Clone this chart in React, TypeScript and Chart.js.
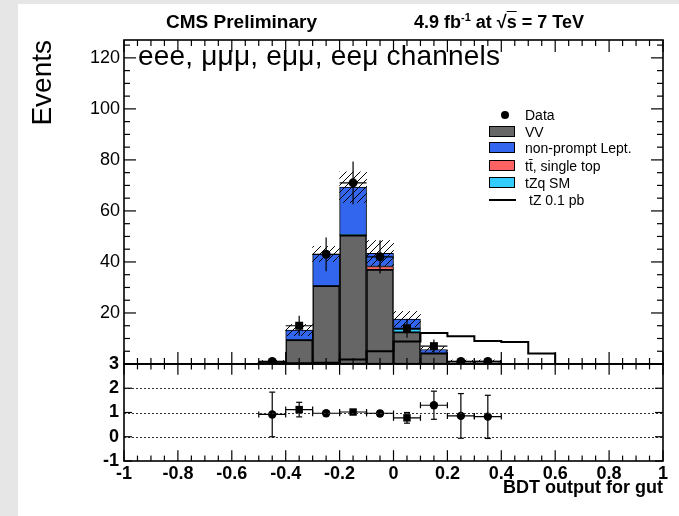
import React, { useEffect, useRef } from 'react';
import { Chart, registerables } from 'chart.js';

Chart.register(...registerables);

// ---------------- data ----------------
const binCenters = [-0.45, -0.35, -0.25, -0.15, -0.05, 0.05, 0.15, 0.25, 0.35];
const vvValues = [0.8, 9.4, 30.6, 50.4, 37.0, 12.5, 4.2, 1.0, 1.0];
const ttValues = [0, 0, 0, 0.15, 1.2, 0, 0, 0, 0];
const tzqValues = [0, 0, 0, 0.15, 0, 1.2, 0, 0, 0];
const nonPromptValues = [0.3, 3.9, 12.5, 18.6, 5.2, 3.9, 1.5, 0.15, 0.2];
const mcErr = [0.3, 2.2, 3.0, 6.0, 5.0, 3.0, 1.0, 0.4, 0.4];

const dataValues = [1, 15, 43, 71, 42, 14, 7, 1, 1];
const dataErrLo = [1, 3.9, 6.6, 8.4, 6.5, 3.7, 2.6, 1, 1];
const dataErrHi = [1, 3.9, 6.6, 8.4, 6.5, 3.7, 2.6, 1, 1];

const ratioValues = [0.92, 1.12, 0.97, 1.02, 0.96, 0.78, 1.3, 0.86, 0.83];
const ratioErrLo = [0.92, 0.3, 0.1, 0.1, 0.12, 0.22, 0.58, 0.92, 0.9];
const ratioErrHi = [0.92, 0.3, 0.1, 0.1, 0.12, 0.22, 0.58, 0.92, 0.88];

const signalEdges = [-1, -0.9, -0.8, -0.7, -0.6, -0.5, -0.4, -0.3, -0.2, -0.1, 0, 0.1, 0.2, 0.3, 0.4, 0.5, 0.6, 0.7, 0.8, 0.9, 1];
const signalValues = [0, 0, 0, 0, 0, 0.3, 0.3, 0.5, 1.8, 5.0, 8.8, 12.2, 10.9, 9.0, 8.6, 4.1, 0, 0, 0, 0, 0];

const xTicks = [-1, -0.8, -0.6, -0.4, -0.2, 0, 0.2, 0.4, 0.6, 0.8, 1];
const yTicks = [20, 40, 60, 80, 100, 120];
const ratioTicks = [-1, 0, 1, 2, 3];
const ratioGrid = [0, 1, 2];

const legendLabels = ['Data', 'VV', 'non-prompt Lept.', 'tt\u0304, single top', 'tZq SM', 'tZ 0.1 pb'];

// ---------------- style ----------------
const FONT = '"Liberation Sans", Arial, Helvetica, sans-serif';
const C_VV = '#666666';
const C_NP = '#3366ee';
const C_TT = '#ff6262';
const C_TZQ = '#33ccff';
const dataMarkerStyles = ['circle', 'rect', 'circle', 'circle', 'circle', 'rect', 'rect', 'circle', 'circle'];
const ratioMarkerStyles = ['circle', 'rect', 'circle', 'rect', 'circle', 'rect', 'circle', 'circle', 'circle'];
const markerSize = (styles: string[], r: number) => styles.map((s) => (s === 'rect' ? r * 1.25 : r));

const HALF_BIN = 0.05;

function errorBars(xs: number[], ys: number[], lo: number[], hi: number[]) {
  const pts: { x: number; y: number | null }[] = [];
  xs.forEach((x, i) => {
    pts.push({ x, y: ys[i] - lo[i] }, { x, y: ys[i] + hi[i] }, { x, y: null });
    pts.push({ x: x - HALF_BIN, y: ys[i] }, { x: x + HALF_BIN, y: ys[i] }, { x, y: null });
  });
  return pts;
}

function makeHatch(): CanvasPattern | string {
  const c = document.createElement('canvas');
  c.width = 7;
  c.height = 7;
  const g = c.getContext('2d');
  if (!g) return 'rgba(0,0,0,0.3)';
  g.strokeStyle = '#000';
  g.lineWidth = 1;
  g.beginPath();
  g.moveTo(0, 7);
  g.lineTo(7, 0);
  g.moveTo(-1, 1);
  g.lineTo(1, -1);
  g.moveTo(6, 8);
  g.lineTo(8, 6);
  g.stroke();
  return g.createPattern(c, 'repeat') || 'rgba(0,0,0,0.3)';
}

const framePlugin = {
  id: 'rootFrame',
  afterDatasetsDraw(chart: any) {
    const { ctx, chartArea } = chart;
    const xs = chart.scales.x;
    const yu = chart.scales.y;
    const yr = chart.scales.yr;
    const L = chartArea.left;
    const R = chartArea.right;
    const seg = (x1: number, y1: number, x2: number, y2: number) => {
      ctx.beginPath();
      ctx.moveTo(x1, y1);
      ctx.lineTo(x2, y2);
      ctx.stroke();
    };
    ctx.save();
    // dotted reference lines in ratio panel
    ctx.setLineDash([2, 2]);
    ctx.strokeStyle = '#333';
    ctx.lineWidth = 1;
    ratioGrid.forEach((v) => {
      const py = Math.round(yr.getPixelForValue(v)) + 0.5;
      seg(L, py, R, py);
    });
    ctx.setLineDash([]);
    ctx.strokeStyle = '#000';
    // end caps of ratio error bars
    ctx.lineWidth = 1.2;
    binCenters.forEach((c, i) => {
      const px = xs.getPixelForValue(c);
      const pl = xs.getPixelForValue(c - HALF_BIN);
      const pr = xs.getPixelForValue(c + HALF_BIN);
      const py = yr.getPixelForValue(ratioValues[i]);
      const pLo = yr.getPixelForValue(ratioValues[i] - ratioErrLo[i]);
      const pHi = yr.getPixelForValue(ratioValues[i] + ratioErrHi[i]);
      seg(px - 3, pLo, px + 3, pLo);
      seg(px - 3, pHi, px + 3, pHi);
      seg(pl, py - 3, pl, py + 3);
      seg(pr, py - 3, pr, py + 3);
    });
    // ticks
    for (let k = 0; k <= 40; k++) {
      const v = -1 + k * 0.05;
      const major = k % 4 === 0;
      const px = xs.getPixelForValue(v);
      const len = major ? 12 : 6;
      seg(px, yu.top, px, yu.top + len);
      seg(px, yu.bottom, px, yu.bottom - len);
      seg(px, yr.top, px, yr.top + len * 0.9);
      seg(px, yr.bottom, px, yr.bottom - len * 0.9);
    }
    for (let v = 0; v <= 125; v += 5) {
      const major = v % 20 === 0;
      const py = yu.getPixelForValue(v);
      const len = major ? 12 : 6;
      seg(L, py, L + len, py);
      seg(R, py, R - len, py);
    }
    ratioTicks.forEach((v) => {
      const py = yr.getPixelForValue(v);
      seg(L, py, L + 8, py);
      seg(R, py, R - 8, py);
    });
    // frames
    ctx.lineWidth = 1.6;
    ctx.strokeRect(L, yu.top, R - L, yu.bottom - yu.top);
    ctx.strokeRect(L, yr.top, R - L, yr.bottom - yr.top);
    ctx.restore();
  },
};

export default function App() {
  const ref = useRef<HTMLCanvasElement>(null);

  useEffect(() => {
    if (!ref.current) return;
    const hatch = makeHatch();
    const bars = (vals: number[]) => binCenters.map((x, i) => ({ x, y: vals[i] > 0 ? vals[i] : null }));
    const totals = binCenters.map((_, i) => vvValues[i] + ttValues[i] + tzqValues[i] + nonPromptValues[i]);
    const barCommon = {
      type: 'bar' as const,
      yAxisID: 'y',
      stack: 'mc',
      order: 5,
      borderColor: '#000',
      borderWidth: 1,
      borderSkipped: false,
      barPercentage: 1,
      categoryPercentage: 1,
    };
    const chart = new Chart(ref.current, {
      type: 'bar',
      data: {
        datasets: [
          { ...barCommon, label: legendLabels[1], data: bars(vvValues), backgroundColor: C_VV, borderWidth: 1.5 },
          { ...barCommon, label: legendLabels[3], data: bars(ttValues), backgroundColor: C_TT },
          { ...barCommon, label: legendLabels[4], data: bars(tzqValues), backgroundColor: C_TZQ },
          { ...barCommon, label: legendLabels[2], data: bars(nonPromptValues), backgroundColor: C_NP },
          {
            type: 'bar',
            label: 'MC uncertainty',
            yAxisID: 'y',
            stack: 'err',
            grouped: false,
            order: 4,
            data: binCenters.map((x, i) => ({ x, y: [totals[i] - mcErr[i], totals[i] + mcErr[i]] })),
            backgroundColor: hatch as any,
            borderWidth: 0,
            barPercentage: 1,
            categoryPercentage: 1,
          } as any,
          {
            type: 'line',
            label: legendLabels[5],
            yAxisID: 'y',
            order: 3,
            data: signalEdges.map((x, i) => ({ x, y: signalValues[i] })),
            stepped: true,
            borderColor: '#000',
            borderWidth: 2,
            pointRadius: 0,
            fill: false,
          } as any,
          {
            type: 'line',
            label: 'data errors',
            yAxisID: 'y',
            order: 2,
            data: errorBars(binCenters, dataValues, dataErrLo, dataErrHi),
            borderColor: '#000',
            borderWidth: 1.2,
            pointRadius: 0,
            spanGaps: false,
          } as any,
          {
            type: 'scatter',
            label: legendLabels[0],
            yAxisID: 'y',
            order: 1,
            data: binCenters.map((x, i) => ({ x, y: dataValues[i] })),
            pointRadius: markerSize(dataMarkerStyles, 4.5),
            pointStyle: dataMarkerStyles,
            pointBackgroundColor: '#000',
            pointBorderColor: '#000',
            pointBorderWidth: 0,
          } as any,
          {
            type: 'line',
            label: 'ratio errors',
            yAxisID: 'yr',
            order: 2,
            data: errorBars(binCenters, ratioValues, ratioErrLo, ratioErrHi),
            borderColor: '#000',
            borderWidth: 1.2,
            pointRadius: 0,
            spanGaps: false,
          } as any,
          {
            type: 'scatter',
            label: 'ratio',
            yAxisID: 'yr',
            order: 1,
            data: binCenters.map((x, i) => ({ x, y: ratioValues[i] })),
            pointRadius: markerSize(ratioMarkerStyles, 4.2),
            pointStyle: ratioMarkerStyles,
            pointBackgroundColor: '#000',
            pointBorderColor: '#000',
            pointBorderWidth: 0,
          } as any,
        ],
      },
      options: {
        animation: false,
        responsive: false,
        devicePixelRatio: 1,
        layout: { padding: { left: 0, right: 16, top: 40, bottom: 0 } },
        plugins: { legend: { display: false }, tooltip: { enabled: false }, title: { display: false } },
        events: [],
        scales: {
          x: {
            type: 'linear',
            min: -1,
            max: 1,
            offset: false,
            afterBuildTicks: (s: any) => {
              s.ticks = xTicks.map((value) => ({ value }));
            },
            afterFit: (s: any) => {
              s.height = 55;
            },
            grid: { display: false, drawTicks: false, offset: false },
            border: { display: false },
            ticks: {
              autoSkip: false,
              maxRotation: 0,
              padding: 2,
              color: '#000',
              font: { family: FONT, size: 18, weight: 'bold' },
              callback: (v: any) => String(Math.round(Number(v) * 10) / 10),
            },
            title: {
              display: true,
              text: 'BDT output for gut',
              align: 'end',
              color: '#000',
              font: { family: FONT, size: 18, weight: 'bold' },
              padding: { top: 0, bottom: 17 },
            },
          },
          yr: {
            type: 'linear',
            position: 'left',
            stack: 'panels',
            stackWeight: 97,
            min: -1,
            max: 3,
            afterBuildTicks: (s: any) => {
              s.ticks = ratioTicks.map((value) => ({ value }));
            },
            afterFit: (s: any) => {
              s.width = 124;
            },
            grid: { display: false, drawTicks: false },
            border: { display: false },
            ticks: {
              autoSkip: false,
              padding: 5,
              color: '#000',
              font: { family: FONT, size: 18, weight: 'bold' },
              callback: (v: any) => String(v),
            },
          },
          y: {
            type: 'linear',
            position: 'left',
            stack: 'panels',
            stackWeight: 324,
            min: 0,
            max: 127,
            afterBuildTicks: (s: any) => {
              s.ticks = yTicks.map((value) => ({ value }));
            },
            afterFit: (s: any) => {
              s.width = 124;
            },
            grid: { display: false, drawTicks: false },
            border: { display: false },
            ticks: {
              autoSkip: false,
              padding: 4,
              color: '#000',
              font: { family: FONT, size: 18, weight: 'normal' },
              callback: (v: any) => String(v),
            },
            title: {
              display: true,
              text: 'Events',
              align: 'end',
              color: '#000',
              font: { family: FONT, size: 28, weight: 'normal' },
              padding: { top: 26, bottom: 0 },
            },
          },
        },
      } as any,
      plugins: [framePlugin],
    });
    return () => chart.destroy();
  }, []);

  const legendRowY = [115, 132, 148, 166, 183, 200];
  const legendSwatch = [null, C_VV, C_NP, C_TT, C_TZQ, null];
  const txt = (extra: React.CSSProperties): React.CSSProperties => ({
    position: 'absolute',
    fontFamily: FONT,
    color: '#000',
    whiteSpace: 'nowrap',
    lineHeight: 1,
    ...extra,
  });

  return (
    <div style={{ position: 'fixed', left: 0, top: 0, width: 679, height: 516, background: '#e6e6e6', overflow: 'hidden' }}>
      <div style={{ position: 'absolute', left: 18, top: 4, right: 0, bottom: 0, background: '#fff' }} />
      <canvas ref={ref} width={679} height={516} style={{ position: 'absolute', left: 0, top: 0, width: 679, height: 516 }} />
      <div style={txt({ left: 166, top: 12, fontSize: 19, fontWeight: 'bold' })}>CMS Preliminary</div>
      <div style={txt({ left: 414, top: 12, fontSize: 18, fontWeight: 'bold' })}>
        4.9 fb<sup style={{ fontSize: 11, verticalAlign: 7 }}>-1</sup> at √<span style={{ textDecoration: 'overline' }}>s</span> = 7 TeV
      </div>
      <div style={txt({ left: 138, top: 42, fontSize: 28, letterSpacing: 0.2 })}>eee, μμμ, eμμ, eeμ channels</div>
      {legendLabels.map((label, i) => {
        const cy = legendRowY[i];
        const sw = legendSwatch[i];
        return (
          <React.Fragment key={label}>
            {i === 0 && (
              <div style={{ position: 'absolute', left: 501, top: cy - 4, width: 8, height: 8, borderRadius: 4, background: '#000' }} />
            )}
            {sw && (
              <div style={{ position: 'absolute', left: 489, top: cy - 6, width: 26, height: 11, background: sw, border: '1px solid #000', boxSizing: 'border-box' }} />
            )}
            {i === 5 && <div style={{ position: 'absolute', left: 489, top: cy - 1, width: 27, height: 2, background: '#000' }} />}
            <div style={txt({ left: i === 5 ? 529 : 525, top: cy - 7, fontSize: 14 })}>{label}</div>
          </React.Fragment>
        );
      })}
    </div>
  );
}
